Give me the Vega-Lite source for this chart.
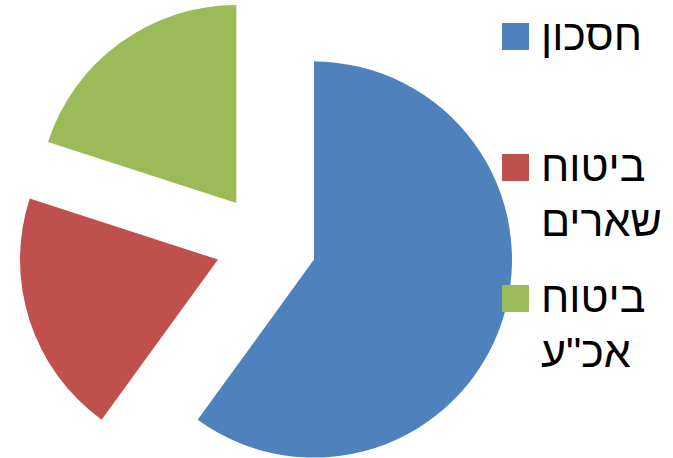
{
  "$schema": "https://vega.github.io/schema/vega-lite/v6.json",
  "width": 532,
  "height": 488,
  "padding": 0,
  "autosize": {"type": "pad"},
  "background": "white",
  "view": {"stroke": null},
  "data": {
    "values": [
      {"category": "חסכון", "value": 60, "order": 1},
      {"category": "ביטוח שארים", "value": 20, "order": 2},
      {"category": "ביטוח אכ\"ע", "value": 20, "order": 3}
    ]
  },
  "transform": [
    {"stack": "value", "groupby": [], "as": ["start", "end"], "sort": [{"field": "order", "order": "ascending"}]}
  ],
  "encoding": {
    "theta": {"field": "start", "type": "quantitative", "scale": {"domain": [0, 100]}},
    "theta2": {"field": "end"},
    "color": {
      "field": "category",
      "type": "nominal",
      "scale": {
        "domain": ["חסכון", "ביטוח שארים", "ביטוח אכ\"ע"],
        "range": ["#4F81BD", "#C0504D", "#9BBB59"]
      },
      "legend": {
        "orient": "none",
        "legendX": 494,
        "legendY": 15,
        "padding": 0,
        "title": null,
        "symbolType": "square",
        "symbolSize": 729,
        "symbolStrokeWidth": 0,
        "symbolOpacity": 1,
        "labelFont": "Liberation Sans",
        "labelFontSize": 43,
        "labelColor": "black",
        "labelLimit": 400,
        "labelOffset": 4,
        "labelBaseline": "alphabetic",
        "labelExpr": "split(datum.label, ' ')",
        "gridAlign": "all",
        "rowPadding": 32,
        "encode": {
          "labels": {"update": {"dy": {"value": 13}, "lineHeight": {"value": 55}}}
        }
      }
    }
  },
  "layer": [
    {
      "transform": [{"filter": "datum.order == 1"}],
      "mark": {"type": "arc", "radius": 198, "xOffset": 48, "yOffset": 15.6}
    },
    {
      "transform": [{"filter": "datum.order == 2"}],
      "mark": {"type": "arc", "radius": 198, "xOffset": -48, "yOffset": 15.6}
    },
    {
      "transform": [{"filter": "datum.order == 3"}],
      "mark": {"type": "arc", "radius": 198, "xOffset": -29.7, "yOffset": -40.9}
    }
  ]
}
